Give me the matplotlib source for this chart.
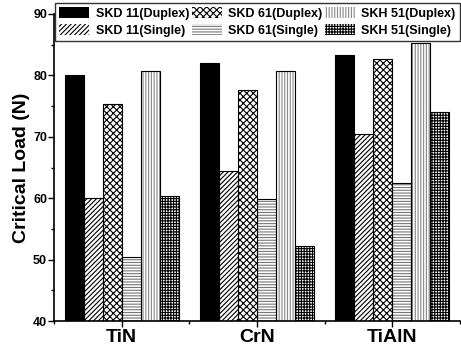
import numpy as np
import matplotlib
matplotlib.use("Agg")
import matplotlib.pyplot as plt
from matplotlib.ticker import MultipleLocator
from matplotlib.patches import Patch

plt.rcParams['font.family'] = ['Liberation Sans', 'DejaVu Sans']
plt.rcParams['font.weight'] = 'bold'
plt.rcParams['hatch.linewidth'] = 0.8

# data
coatings = ["TiN", "CrN", "TiAlN"]
series = ["SKD 11(Duplex)", "SKD 11(Single)", "SKD 61(Duplex)",
          "SKD 61(Single)", "SKH 51(Duplex)", "SKH 51(Single)"]
skd11_duplex = [80.0, 82.0, 83.4]
skd11_single = [60.0, 64.5, 70.5]
skd61_duplex = [75.3, 77.6, 82.7]
skd61_single = [50.4, 59.9, 62.4]
skh51_duplex = [80.7, 80.7, 85.3]
skh51_single = [60.4, 52.2, 74.0]
values = [skd11_duplex, skd11_single, skd61_duplex,
          skd61_single, skh51_duplex, skh51_single]

# style per series: (facecolor, hatch, hatch colour)
styles = [("black", None, "black"),
          ("white", "///////", "black"),
          ("white", "xxxxx", "black"),
          ("white", "------", "#777777"),
          ("white", "||||||", "#888888"),
          ("white", "++++++", "black")]

fig = plt.figure(figsize=(4.61, 3.5), dpi=100)
ax = fig.add_axes([54/461, 1 - 321/350, 406/461, 307/350])

x = np.arange(1, len(coatings) + 1)
w = 0.14
for i, (vals, (fc, h, hc)) in enumerate(zip(values, styles)):
    pos = x + (i - 2.5) * w
    ax.bar(pos, np.array(vals) - 40, w, bottom=40, color=fc, hatch=h,
           edgecolor=hc, linewidth=0, zorder=2)
    ax.bar(pos, np.array(vals) - 40, w, bottom=40, fill=False,
           edgecolor="black", linewidth=0.8, zorder=3)

ax.set_xlim(0.5, 3.5)
ax.set_ylim(40, 90)
ax.set_xticks(x)
ax.set_xticklabels(coatings, fontsize=14, fontweight='bold')
ax.xaxis.set_minor_locator(MultipleLocator(0.5))
ax.yaxis.set_major_locator(MultipleLocator(10))
ax.yaxis.set_minor_locator(MultipleLocator(5))
ax.tick_params(axis='y', labelsize=9, direction='out', length=4, width=1, pad=1)
ax.tick_params(axis='y', which='minor', length=2.5, width=1)
ax.tick_params(axis='x', direction='out', length=4, width=1, pad=2)
ax.tick_params(axis='x', which='minor', length=2.5, width=1)
for lab in ax.get_yticklabels():
    lab.set_fontweight('bold')
ax.spines['top'].set_visible(False)
ax.spines['right'].set_visible(False)
ax.spines['left'].set_linewidth(1.2)
ax.spines['bottom'].set_linewidth(1.2)
ax.set_ylabel("Critical Load (N)", fontsize=14, fontweight='bold', labelpad=2)

handles = [Patch(facecolor=fc, hatch=h, edgecolor=hc if h else "black", linewidth=0)
           for fc, h, hc in styles]
leg = fig.legend(handles, series, ncol=3, loc='upper left',
                 bbox_to_anchor=(55/461, 1 - 3/350), frameon=True, fancybox=False,
                 edgecolor='black', fontsize=9, handlelength=2.4, handleheight=0.9,
                 handletextpad=0.5, columnspacing=0.2, labelspacing=0.35,
                 borderpad=0.35, borderaxespad=0)
leg.get_frame().set_linewidth(1.0)
for t in leg.get_texts():
    t.set_fontweight('bold')

fig.savefig("out.png", dpi=100)
